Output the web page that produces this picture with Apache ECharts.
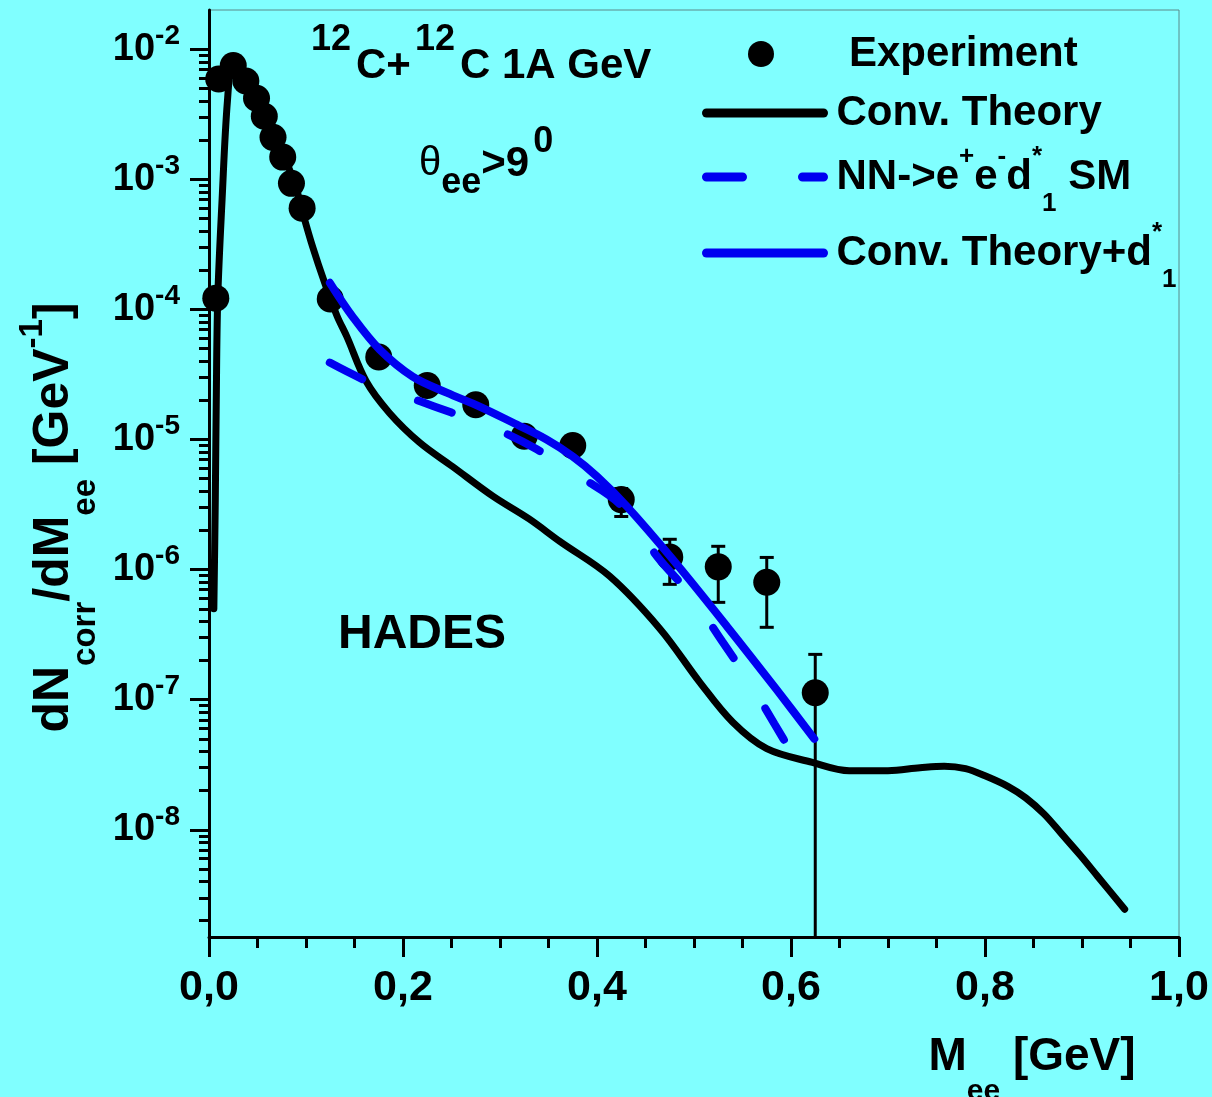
<!DOCTYPE html>
<html><head><meta charset="utf-8">
<script src="https://cdn.jsdelivr.net/npm/echarts@6/dist/echarts.min.js"></script>
<style>html,body{margin:0;padding:0;background:#80ffff}#c{width:1212px;height:1097px}</style>
</head><body><div id="c"></div>
<script>
// ---- data ----
const expX = [0.007, 0.010, 0.025, 0.038, 0.049, 0.057, 0.066, 0.076, 0.085, 0.096, 0.125, 0.175, 0.225, 0.275, 0.325, 0.375, 0.425, 0.475, 0.525, 0.575, 0.625];
const expY = [1.22e-4, 5.9e-3, 7.5e-3, 5.7e-3, 4.2e-3, 3.05e-3, 2.1e-3, 1.48e-3, 9.3e-4, 6.0e-4, 1.2e-4, 4.3e-5, 2.6e-5, 1.85e-5, 1.06e-5, 9.0e-6, 3.45e-6, 1.25e-6, 1.05e-6, 8.0e-7, 1.13e-7];
const errX = [0.425, 0.475, 0.525, 0.575, 0.625];
const errLow = [2.56e-6, 7.7e-7, 5.6e-7, 3.6e-7, 1e-12];
const errHigh = [4.2e-6, 1.71e-6, 1.51e-6, 1.24e-6, 2.23e-7];

const convX = [0.005, 0.0065, 0.0075, 0.009, 0.0135, 0.019, 0.024, 0.030, 0.040, 0.050, 0.060, 0.070, 0.080, 0.090, 0.097, 0.107, 0.119, 0.132, 0.142, 0.162, 0.186, 0.217, 0.251, 0.293, 0.330, 0.362, 0.413, 0.465, 0.506, 0.540, 0.575, 0.622, 0.660, 0.700, 0.733, 0.758, 0.780, 0.800, 0.824, 0.842, 0.861, 0.879, 0.898, 0.916, 0.944];
const convY = [5.0e-7, 3.5e-6, 2.0e-5, 1.2e-4, 7.0e-4, 4.0e-3, 7.0e-3, 6.9e-3, 5.5e-3, 4.0e-3, 2.9e-3, 2.0e-3, 1.35e-3, 8.5e-4, 5.4e-4, 3.0e-4, 1.62e-4, 8.9e-5, 6.2e-5, 2.8e-5, 1.6e-5, 9.5e-6, 6.2e-6, 3.65e-6, 2.45e-6, 1.64e-6, 8.9e-7, 3.5e-7, 1.36e-7, 6.7e-8, 4.2e-8, 3.3e-8, 2.85e-8, 2.85e-8, 3.0e-8, 3.08e-8, 2.95e-8, 2.6e-8, 2.15e-8, 1.76e-8, 1.32e-8, 9.3e-9, 6.4e-9, 4.4e-9, 2.45e-9];

const sumX = [0.1246, 0.148, 0.176, 0.210, 0.245, 0.279, 0.313, 0.348, 0.375, 0.400, 0.431, 0.478, 0.534, 0.585, 0.624];
const sumY = [1.6e-4, 8.8e-5, 4.9e-5, 3.04e-5, 2.29e-5, 1.79e-5, 1.35e-5, 1.0e-5, 7.4e-6, 5.2e-6, 3.05e-6, 1.2e-6, 3.66e-7, 1.2e-7, 5.0e-8];

const smX = [0.1245, 0.164, 0.210, 0.250, 0.297, 0.338, 0.384, 0.426, 0.462, 0.496, 0.529, 0.554, 0.583, 0.606];
const smY = [3.9e-5, 2.78e-5, 2.06e-5, 1.61e-5, 1.19e-5, 8.4e-6, 5.1e-6, 3.05e-6, 1.26e-6, 6.45e-7, 2.81e-7, 1.49e-7, 6.5e-8, 3.37e-8];

const xTickValues = [0, 0.2, 0.4, 0.6, 0.8, 1.0];
const xTickLabels = ['0,0', '0,2', '0,4', '0,6', '0,8', '1,0'];
const yDecadeExps = [-8, -7, -6, -5, -4, -3, -2];

const seriesNames = ['Experiment', 'Conv. Theory', 'NN->e+e-d1* SM', 'Conv. Theory+d1*'];
const legendRich = {
  'Experiment': '{m|Experiment}',
  'Conv. Theory': '{m|Conv. Theory}',
  'NN->e+e-d1* SM': '{m|NN->e}{sp|+}{m|e}{sp|-}{m|d}{sp|*}{sb|1}{m| SM}',
  'Conv. Theory+d1*': '{m|Conv. Theory+d}{sp|*}{sb|1}'
};

// ---- chart ----
const F = '"Liberation Sans", Arial, Helvetica, sans-serif';
const BLUE = '#0000f0';
const pair = (xs, ys) => xs.map((x, i) => [x, ys[i]]);
const decadeValues = yDecadeExps.map(e => Math.pow(10, e));
const chart = echarts.init(document.getElementById('c'), null, {renderer: 'canvas', width: 1212, height: 1097});

const legRichSimple = {m: {fontFamily: F, fontSize: 42, fontWeight: 'bold', color: '#000', lineHeight: 44}};
const legRichComplex = {
  m: {fontFamily: F, fontSize: 42, fontWeight: 'bold', color: '#000', lineHeight: 84},
  sp: {fontFamily: F, fontSize: 26, fontWeight: 'bold', color: '#000', verticalAlign: 'top', padding: [9, 0, 0, 0]},
  sb: {fontFamily: F, fontSize: 26, fontWeight: 'bold', color: '#000', verticalAlign: 'bottom', padding: [0, 0, 2, 0]}
};
function mkLegend(name, left, top, w, h, rich, pad, icon, lw) {
  const l = {
    data: [icon ? {name: name, icon: icon} : name], orient: 'vertical', left: left, top: top,
    itemWidth: w, itemHeight: h, selectedMode: false, padding: 0,
    formatter: n => legendRich[n],
    textStyle: {fontFamily: F, fontSize: 42, fontWeight: 'bold', color: '#000', padding: [0, 0, 0, pad], rich: rich}
  };
  if (!icon) {
    l.itemStyle = {opacity: 0};
    l.lineStyle = {width: lw, cap: 'round', type: 'inherit', color: 'inherit'};
  } else {
    l.itemStyle = {opacity: 1};
  }
  return l;
}

const option = {
  backgroundColor: '#80ffff',
  animation: false,
  textStyle: {fontFamily: F},
  grid: {left: 209, right: 33, top: 10, bottom: 160, containLabel: false, outerBoundsMode: 'none',
    show: true, borderColor: '#5b8a8a', borderWidth: 1, backgroundColor: 'transparent'},
  legend: [
    mkLegend(seriesNames[0], 748, 33, 26, 26, legRichSimple, 70, 'circle'),
    mkLegend(seriesNames[1], 702, 92, 117, 20, legRichSimple, 8, null, 9),
    mkLegend(seriesNames[2], 702, 144, 117, 20, legRichComplex, 8, null, 9),
    mkLegend(seriesNames[3], 702, 220, 117, 20, legRichComplex, 8, null, 9)
  ],
  xAxis: {
    type: 'value', min: 0, max: 1, interval: 0.2,
    axisLine: {show: true, onZero: false, lineStyle: {color: '#000', width: 3}},
    axisTick: {show: true, length: 20, lineStyle: {color: '#000', width: 3}},
    minorTick: {show: true, splitNumber: 4, length: 11, lineStyle: {color: '#000', width: 3}},
    splitLine: {show: false}, minorSplitLine: {show: false},
    axisLabel: {margin: 30, fontFamily: F, fontSize: 43, fontWeight: 'bold', color: '#000',
      formatter: v => { const i = xTickValues.findIndex(t => Math.abs(t - v) < 1e-9); return i >= 0 ? xTickLabels[i] : ''; }},
    name: '{m|M}{sb|ee}{m| [GeV]}', nameLocation: 'middle', nameGap: 70,
    nameTextStyle: {padding: [0, 0, 0, 676], rich: {
      m: {fontFamily: F, fontSize: 46, fontWeight: 'bold', color: '#000', lineHeight: 100},
      sb: {fontFamily: F, fontSize: 30, fontWeight: 'bold', color: '#000', verticalAlign: 'bottom'}
    }}
  },
  yAxis: {
    type: 'log', logBase: 10, min: 1.5e-9, max: 0.02,
    axisLine: {show: true, onZero: false, lineStyle: {color: '#000', width: 3}},
    axisTick: {show: true, length: 19, customValues: decadeValues, lineStyle: {color: '#000', width: 3}},
    minorTick: {show: true, splitNumber: 9, length: 10, lineStyle: {color: '#000', width: 3}},
    splitLine: {show: false}, minorSplitLine: {show: false},
    axisLabel: {margin: 29, customValues: decadeValues,
      formatter: v => { const e = Math.log10(v); const r = Math.round(e); if (Math.abs(e - r) > 1e-6 || yDecadeExps.indexOf(r) < 0) return ''; return '{b|10}{s|' + r + '}'; },
      rich: {
        b: {fontFamily: F, fontSize: 38, fontWeight: 'bold', color: '#000', lineHeight: 54},
        s: {fontFamily: F, fontSize: 28, fontWeight: 'bold', color: '#000', verticalAlign: 'top'}
      }},
    name: '{m|dN}{sb|corr}{m|/dM}{sb|ee}{m| [GeV}{sp|-1}{m|]}', nameLocation: 'middle', nameGap: 89, nameRotate: 90,
    nameTextStyle: {padding: [0, 88, 0, 0], rich: {
      m: {fontFamily: F, fontSize: 50, fontWeight: 'bold', color: '#000', lineHeight: 96},
      sb: {fontFamily: F, fontSize: 33, fontWeight: 'bold', color: '#000', verticalAlign: 'bottom'},
      sp: {fontFamily: F, fontSize: 33, fontWeight: 'bold', color: '#000', verticalAlign: 'top', padding: [10, 0, 0, 0]}
    }}
  },
  graphic: [
    {type: 'text', left: 311, top: 22, style: {text: '{sp|12}{mp|C+}{sp|12}{m|C 1A GeV}', rich: {
      m: {fontFamily: F, fontSize: 42, fontWeight: 'bold', fill: '#000', lineHeight: 88},
      mp: {fontFamily: F, fontSize: 42, fontWeight: 'bold', fill: '#000', lineHeight: 88, padding: [0, 4, 0, 0]},
      sp: {fontFamily: F, fontSize: 36, fontWeight: 'bold', fill: '#000', verticalAlign: 'top', padding: [0, 5, 0, 0]}
    }}},
    {type: 'text', left: 419, top: 124, style: {text: '{t|θ}{sb|ee}{m|>9}{sp|0}', rich: {
      t: {fontFamily: F, fontSize: 40, fill: '#000', lineHeight: 92},
      m: {fontFamily: F, fontSize: 42, fontWeight: 'bold', fill: '#000', lineHeight: 92},
      sb: {fontFamily: F, fontSize: 36, fontWeight: 'bold', fill: '#000', verticalAlign: 'bottom', padding: [0, 0, 9, 0]},
      sp: {fontFamily: F, fontSize: 36, fontWeight: 'bold', fill: '#000', verticalAlign: 'top', padding: [6, 0, 0, 4]}
    }}},
    {type: 'text', left: 338, top: 611, style: {text: 'HADES', fontFamily: F, fontSize: 48, fontWeight: 'bold', fill: '#000', lineHeight: 48}}
  ],
  series: [
    {
      type: 'custom', name: 'errors', silent: true, clip: true, z: 1,
      data: errX.map((x, i) => [x, errLow[i], errHigh[i]]),
      encode: {x: 0, y: [1, 2]},
      renderItem: function (params, api) {
        const x = api.value(0);
        const lo = api.coord([x, api.value(1)]);
        const hi = api.coord([x, api.value(2)]);
        const w = 7;
        const st = {stroke: '#000', lineWidth: 3};
        return {type: 'group', children: [
          {type: 'line', shape: {x1: lo[0], y1: lo[1], x2: hi[0], y2: hi[1]}, style: st},
          {type: 'line', shape: {x1: hi[0] - w, y1: hi[1], x2: hi[0] + w, y2: hi[1]}, style: st},
          {type: 'line', shape: {x1: lo[0] - w, y1: lo[1], x2: lo[0] + w, y2: lo[1]}, style: st}
        ]};
      }
    },
    {
      type: 'scatter', name: seriesNames[0], data: pair(expX, expY), symbol: 'circle', symbolSize: 27,
      itemStyle: {color: '#000', opacity: 1}, z: 2
    },
    {
      type: 'line', name: seriesNames[1], data: pair(convX, convY), symbol: 'none', smooth: 0.35,
      lineStyle: {color: '#000', width: 7, cap: 'round', join: 'round'}, itemStyle: {color: '#000'}, z: 3
    },
    {
      type: 'line', name: seriesNames[2], data: pair(smX, smY), symbol: 'none', smooth: 0.35,
      lineStyle: {color: BLUE, width: 8, type: [36, 60], cap: 'round'}, itemStyle: {color: BLUE}, z: 4
    },
    {
      type: 'line', name: seriesNames[3], data: pair(sumX, sumY), symbol: 'none', smooth: 0.35,
      lineStyle: {color: BLUE, width: 8, cap: 'round', join: 'round'}, itemStyle: {color: BLUE}, z: 5
    }
  ]
};
chart.setOption(option);
</script>
</body></html>
